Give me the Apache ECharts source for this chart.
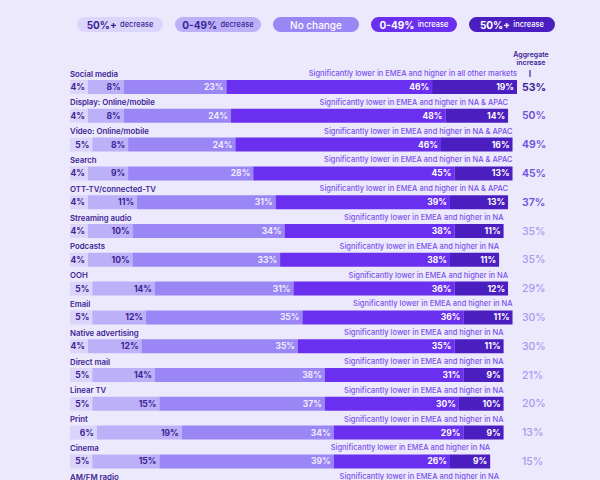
<!DOCTYPE html>
<html>
<head>
<meta charset="utf-8">
<script src="https://cdn.jsdelivr.net/npm/echarts@6/dist/echarts.min.js"></script>
<style>
html,body{margin:0;padding:0;background:#ECE9FD;}
#chart{width:600px;height:480px;}
</style>
</head>
<body>
<div id="chart"></div>
<script>
const categories = ['Social media','Display: Online/mobile','Video: Online/mobile','Search','OTT-TV/connected-TV','Streaming audio','Podcasts','OOH','Email','Native advertising','Direct mail','Linear TV','Print','Cinema','AM/FM radio'];
const decrease50 = [4,4,5,4,4,4,4,5,5,4,5,5,6,5,null];
const decrease049 = [8,8,8,9,11,10,10,14,12,12,14,15,19,15,null];
const noChange = [23,24,24,28,31,34,33,31,35,35,38,37,34,39,null];
const increase049 = [46,48,46,45,39,38,38,36,36,35,31,30,29,26,null];
const increase50 = [19,14,16,13,13,11,11,12,11,11,9,10,9,9,null];
const aggregateIncrease = [53,50,49,45,37,35,35,29,30,30,21,20,13,15,null];
const barTotals = [100,98,99,99,98,97,96,98,99,97,97,97,97,94,96];
const notes = [
  'Significantly lower in EMEA and higher in all other markets',
  'Significantly lower in EMEA and higher in NA & APAC',
  'Significantly lower in EMEA and higher in NA & APAC',
  'Significantly lower in EMEA and higher in NA & APAC',
  'Significantly lower in EMEA and higher in NA & APAC',
  'Significantly lower in EMEA and higher in NA',
  'Significantly lower in EMEA and higher in NA',
  'Significantly lower in EMEA and higher in NA',
  'Significantly lower in EMEA and higher in NA',
  'Significantly lower in EMEA and higher in NA',
  'Significantly lower in EMEA and higher in NA',
  'Significantly lower in EMEA and higher in NA',
  'Significantly lower in EMEA and higher in NA',
  'Significantly lower in EMEA and higher in NA',
  'Significantly lower in EMEA and higher in NA'
];
const legendNames = ['50%+ decrease','0-49% decrease','No change','0-49% increase','50%+ increase'];

const FONT = 'Inter, "Noto Sans", sans-serif';
const DARK = '#3C2494';
const NOTE = '#7B52EC';
const colors = ['#DCD5FB','#BCB0F8','#9A86F4','#6A2FEF','#4B1EBF'];
const labelColors = [DARK, DARK, '#F1ECFF', '#FFFFFF', '#FFFFFF'];
const seriesData = [decrease50, decrease049, noChange, increase049, increase50];

const chart = echarts.init(document.getElementById('chart'), null, {renderer:'svg'});

const barSeries = seriesData.map((arr, k) => ({
  name: legendNames[k],
  type: 'bar',
  stack: 'total',
  barWidth: 14,
  data: arr,
  itemStyle: {color: colors[k]},
  emphasis: {disabled: true},
  label: {
    show: true,
    position: 'insideRight',
    distance: 3,
    formatter: p => p.value == null ? '' : p.value + '%',
    color: labelColors[k],
    fontFamily: FONT,
    fontSize: 8.5,
    fontWeight: 700
  }
}));

function textSeries(name, dataArr, textFn, align, style) {
  return {
    type: 'custom',
    name: name,
    silent: true,
    data: dataArr,
    renderItem: function(params, api) {
      const i = params.dataIndex;
      const pt = api.coord([api.value(0), api.value(1)]);
      return {
        type: 'text',
        x: pt[0],
        y: pt[1] - 13.5,
        style: Object.assign({
          text: textFn(i),
          align: align,
          verticalAlign: 'middle',
          fontFamily: FONT
        }, style)
      };
    }
  };
}

const legendFormat = {
  '50%+ decrease': '{b|50%+} {s|decrease}',
  '0-49% decrease': '{b|0-49%} {s|decrease}',
  'No change': '{m|No change}',
  '0-49% increase': '{b|0-49%} {s|increase}',
  '50%+ increase': '{b|50%+} {s|increase}'
};
const legendText = [DARK, DARK, '#FFFFFF', '#FFFFFF', '#FFFFFF'];

function richFor(color) {
  return {
    b: {fontSize: 10, fontWeight: 700, color: color, fontFamily: FONT, align: 'center'},
    s: {fontSize: 7.5, fontWeight: 500, color: color, fontFamily: FONT, align: 'center'},
    m: {fontSize: 10, fontWeight: 500, color: color, fontFamily: FONT, align: 'center'}
  };
}

function aggColor(v) {
  if (v > 50) return 'd';
  if (v >= 36) return 'm';
  return 'l';
}

const option = {
  backgroundColor: '#ECE9FD',
  animation: false,
  legend: {
    top: 12,
    left: 67,
    itemWidth: 0,
    itemHeight: 0,
    itemGap: 7,
    selectedMode: false,
    formatter: name => legendFormat[name],
    data: legendNames.map((n, k) => ({
      name: n,
      icon: 'rect',
      itemStyle: {opacity: 0},
      textStyle: {
        backgroundColor: colors[k],
        borderRadius: 8,
        width: 86,
        height: 15,
        lineHeight: 15,
        padding: 0,
        align: 'center',
        rich: richFor(legendText[k])
      }
    }))
  },
  grid: {left: 70, width: 447, top: 72.6, height: 432, containLabel: false, outerBoundsMode: 'none'},
  xAxis: {type: 'value', min: 0, max: 100, show: false},
  yAxis: [
    {type: 'category', data: categories, inverse: true, show: false},
    {
      type: 'category', data: categories, inverse: true, position: 'right',
      axisLine: {show: false}, axisTick: {show: false}, splitLine: {show: false},
      axisLabel: {
        margin: 5,
        align: 'left',
        formatter: (v, i) => aggregateIncrease[i] == null ? '' : '{' + aggColor(aggregateIncrease[i]) + '|' + aggregateIncrease[i] + '%}',
        rich: {
          d: {fontSize: 10.5, fontWeight: 700, color: DARK, fontFamily: FONT},
          m: {fontSize: 10.5, fontWeight: 600, color: '#6C4FDA', fontFamily: FONT},
          l: {fontSize: 10.5, fontWeight: 500, color: '#A898EE', fontFamily: FONT}
        }
      }
    }
  ],
  graphic: [
    {type: 'text', x: 531, y: 50, silent: true,
     style: {text: 'Aggregate\nincrease', align: 'center', fontSize: 7, lineHeight: 8, fontWeight: 600, fill: DARK, fontFamily: FONT}},
    {type: 'line', silent: true, shape: {x1: 530, y1: 70, x2: 530, y2: 77}, style: {stroke: DARK, lineWidth: 1.2}}
  ],
  series: barSeries.concat([
    textSeries('cats', categories.map((c, i) => [0, i]), i => categories[i], 'left',
      {fontSize: 7.8, fontWeight: 600, fill: DARK}),
    textSeries('notes', barTotals.map((t, i) => [t, i]), i => notes[i], 'right',
      {fontSize: 7.5, fontWeight: 500, fill: NOTE})
  ])
};
chart.setOption(option);
</script>
</body>
</html>
